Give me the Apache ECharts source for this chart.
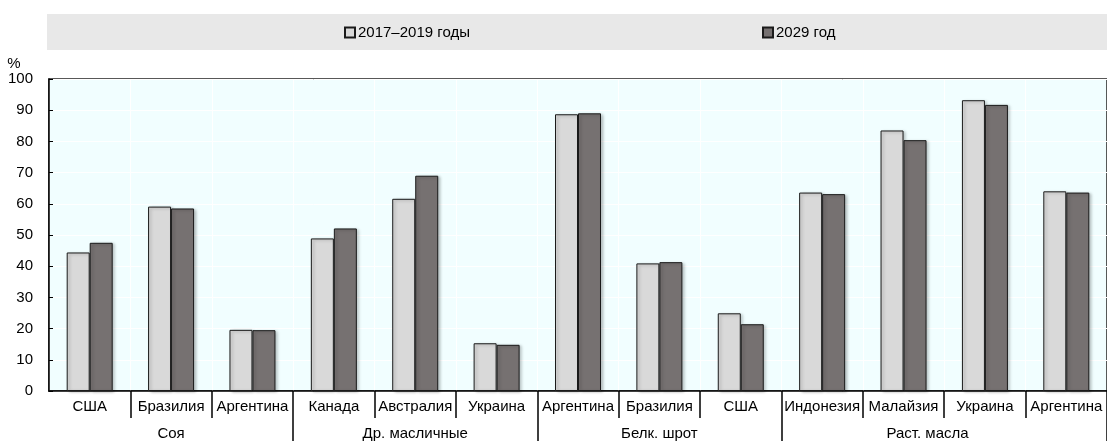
<!DOCTYPE html>
<html>
<head>
<meta charset="utf-8">
<script src="https://cdn.jsdelivr.net/npm/echarts@6/dist/echarts.min.js"></script>
<style>
  html, body { margin: 0; padding: 0; background: #fff; }
  #main { width: 1107px; height: 441px; }
</style>
</head>
<body>
<div id="main"></div>
<script>
// категории (страны) и группы продуктов
var countries = ['США', 'Бразилия', 'Аргентина', 'Канада', 'Австралия', 'Украина',
                 'Аргентина', 'Бразилия', 'США', 'Индонезия', 'Малайзия', 'Украина', 'Аргентина'];
var groupNames = ['Соя', 'Др. масличные', 'Белк. шрот', 'Раст. масла'];
var groupSizes = [3, 3, 3, 4];
// доля экспорта, %
var base = [44.4, 59.1, 19.6, 48.9, 61.6, 15.3, 88.7, 40.9, 24.9, 63.6, 83.5, 93.2, 64.0];
var proj = [47.5, 58.5, 19.5, 52.1, 69.0, 14.8, 89.0, 41.3, 21.4, 63.1, 80.4, 91.7, 63.6];
var seriesNames = ['2017–2019 годы', '2029 год'];
var yTicks = [0, 10, 20, 30, 40, 50, 60, 70, 80, 90, 100];

var FONT = '"Liberation Sans", Arial, sans-serif';

// подписи второго уровня: имя группы в середине группы
var groupLabels = [];
var groupStarts = [];
var groupMid = {};
var pos = 0;
for (var g = 0; g < groupNames.length; g++) {
    groupStarts.push(pos);
    groupMid[pos + Math.floor((groupSizes[g] - 1) / 2)] = g;
    for (var k = 0; k < groupSizes[g]; k++) {
        groupLabels.push('g' + pos);
        pos++;
    }
}

var chart = echarts.init(document.getElementById('main'));

var barStyle = function (color) {
    return {
        color: color,
        borderColor: '#1a1a1a',
        borderWidth: 1,
        shadowColor: 'rgba(0,0,0,0.25)',
        shadowBlur: 3,
        shadowOffsetX: 2,
        shadowOffsetY: 1
    };
};

var option = {
    animation: false,
    textStyle: { fontFamily: FONT },
    graphic: [{
        type: 'rect',
        left: 47, top: 14,
        shape: { width: 1060, height: 36 },
        style: { fill: '#E8E8E8' },
        z: -1
    }],
    legend: [{
        data: [seriesNames[0]],
        left: 339, top: 20,
        icon: 'rect', itemWidth: 10, itemHeight: 10, itemGap: 4,
        textStyle: { fontSize: 15, color: '#000', fontFamily: FONT, padding: [0, 0, 0, -2] }
    }, {
        data: [seriesNames[1]],
        left: 757, top: 20,
        icon: 'rect', itemWidth: 10, itemHeight: 10, itemGap: 4,
        textStyle: { fontSize: 15, color: '#000', fontFamily: FONT, padding: [0, 0, 0, -2] }
    }],
    grid: {
        left: 49, right: -8, top: 79, bottom: 50,
        show: true,
        backgroundColor: '#F1FEFF',
        borderColor: '#222',
        borderWidth: 1.5
    },
    xAxis: [{
        type: 'category',
        data: countries,
        boundaryGap: true,
        axisLine: { lineStyle: { color: '#000', width: 1.5 } },
        axisTick: {
            show: true,
            length: 27,
            interval: function (i) { return i > 0; },
            lineStyle: { color: '#000', width: 1.5 }
        },
        axisLabel: { interval: 0, fontSize: 15, color: '#000', margin: 8, fontFamily: FONT },
        splitLine: { show: true, interval: 0, lineStyle: { color: '#ffffff', width: 1 } }
    }, {
        type: 'category',
        data: groupLabels,
        position: 'bottom',
        boundaryGap: true,
        axisLine: { show: false },
        axisTick: {
            show: true,
            length: 50,
            interval: function (i) { return i > 0 && groupStarts.indexOf(i) >= 0; },
            lineStyle: { color: '#000', width: 1.5 }
        },
        axisLabel: {
            interval: function (i) { return groupMid[i] !== undefined; },
            fontSize: 15, color: '#000', margin: 35, fontFamily: FONT,
            formatter: function (v, i) {
                var g = groupMid[i];
                if (g === undefined) return '';
                if (groupSizes[g] % 2 === 0) return '{shift|' + groupNames[g] + '}';
                return groupNames[g];
            },
            rich: {
                shift: { fontSize: 15, color: '#000', fontFamily: FONT, padding: [0, 0, 0, 48] }
            }
        },
        splitLine: { show: false }
    }],
    yAxis: {
        type: 'value',
        min: yTicks[0], max: yTicks[yTicks.length - 1], interval: 10,
        name: '%',
        nameLocation: 'end',
        nameGap: 6,
        nameTextStyle: { fontSize: 15, color: '#000', fontFamily: FONT, align: 'center', padding: [0, 70, 0, 0] },
        axisLine: { show: true, lineStyle: { color: '#000', width: 1.5 } },
        axisTick: { show: true, inside: true, length: 4, lineStyle: { color: '#000' } },
        axisLabel: { fontSize: 15, color: '#000', margin: 16, fontFamily: FONT },
        splitLine: { show: true, lineStyle: { color: '#ffffff', width: 1 } }
    },
    series: [{
        name: seriesNames[0],
        type: 'bar',
        data: base,
        barWidth: 23,
        barGap: '0%',
        itemStyle: barStyle('#D9D9D9')
    }, {
        name: seriesNames[1],
        type: 'bar',
        data: proj,
        barWidth: 23,
        barGap: '0%',
        itemStyle: barStyle('#767171')
    }]
};

chart.setOption(option);
</script>
</body>
</html>
